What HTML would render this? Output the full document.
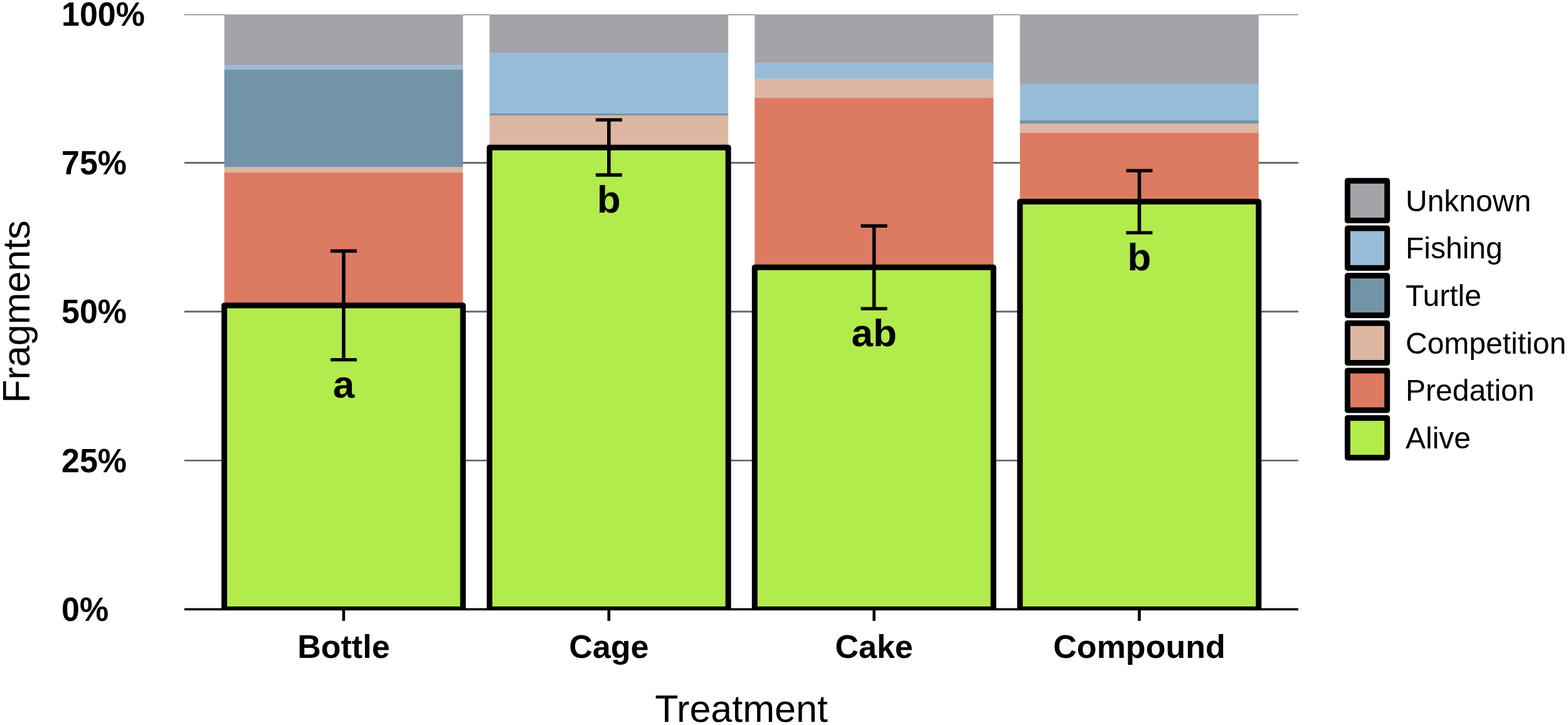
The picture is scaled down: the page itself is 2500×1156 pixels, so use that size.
<!DOCTYPE html>
<html><head><meta charset="utf-8"><title>Fragments by Treatment</title>
<style>html,body{margin:0;padding:0;background:#fff;}body{width:2500px;height:1156px;overflow:hidden;}svg{display:block;}text{font-family:"Liberation Sans",Arial,Helvetica,sans-serif;fill:#000;}.b{font-weight:bold;}</style></head><body>
<svg width="2500" height="1156" viewBox="0 0 2500 1156">
<rect x="0" y="0" width="2500" height="1156" fill="#fff"/>
<defs><clipPath id="panel"><rect x="294" y="22.3" width="1776" height="949.2"/></clipPath></defs>
<g clip-path="url(#panel)" stroke="#616161" stroke-width="2.6">
<line x1="294" y1="734.2" x2="2070" y2="734.2"/>
<line x1="294" y1="496.9" x2="2070" y2="496.9"/>
<line x1="294" y1="259.6" x2="2070" y2="259.6"/>
</g>
<rect x="294" y="23" width="1776" height="1.1" fill="#686868"/>
<g>
<rect x="357.6" y="23" width="380.6" height="80.9" fill="#a4a3a9"/>
<rect x="357.6" y="103.9" width="380.6" height="7" fill="#98bcd7"/>
<rect x="357.6" y="110.9" width="380.6" height="155.8" fill="#7393a9"/>
<rect x="357.6" y="266.7" width="380.6" height="8.4" fill="#dcb6a1"/>
<rect x="357.6" y="275.1" width="380.6" height="696.4" fill="#dd7a62"/>
<rect x="780.5" y="23" width="380.6" height="61" fill="#a4a3a9"/>
<rect x="780.5" y="84" width="380.6" height="97" fill="#98bcd7"/>
<rect x="780.5" y="181" width="380.6" height="3" fill="#7393a9"/>
<rect x="780.5" y="184" width="380.6" height="787.5" fill="#dcb6a1"/>
<rect x="1203.3" y="23" width="380.6" height="77.8" fill="#a4a3a9"/>
<rect x="1203.3" y="100.8" width="380.6" height="25" fill="#98bcd7"/>
<rect x="1203.3" y="125.8" width="380.6" height="30.3" fill="#dcb6a1"/>
<rect x="1203.3" y="156.1" width="380.6" height="815.4" fill="#dd7a62"/>
<rect x="1626.2" y="23" width="380.6" height="111" fill="#a4a3a9"/>
<rect x="1626.2" y="134" width="380.6" height="57.9" fill="#98bcd7"/>
<rect x="1626.2" y="191.9" width="380.6" height="5.1" fill="#7393a9"/>
<rect x="1626.2" y="197" width="380.6" height="15" fill="#dcb6a1"/>
<rect x="1626.2" y="212" width="380.6" height="759.5" fill="#dd7a62"/>
</g>
<g clip-path="url(#panel)">
<rect x="357.6" y="487" width="380.6" height="484.5" fill="#b2eb4c" stroke="#000" stroke-width="9" stroke-linejoin="round"/>
<rect x="780.5" y="235.15" width="380.6" height="736.35" fill="#b2eb4c" stroke="#000" stroke-width="9" stroke-linejoin="round"/>
<rect x="1203.3" y="426.2" width="380.6" height="545.3" fill="#b2eb4c" stroke="#000" stroke-width="9" stroke-linejoin="round"/>
<rect x="1626.2" y="321.6" width="380.6" height="649.9" fill="#b2eb4c" stroke="#000" stroke-width="9" stroke-linejoin="round"/>
</g>
<g stroke="#000" fill="none">
<line x1="547.9" y1="400.3" x2="547.9" y2="573.6" stroke-width="5.6"/>
<line x1="526.9" y1="400.3" x2="568.9" y2="400.3" stroke-width="5.4"/>
<line x1="526.9" y1="573.6" x2="568.9" y2="573.6" stroke-width="5.4"/>
<line x1="970.8" y1="191.1" x2="970.8" y2="279" stroke-width="5.6"/>
<line x1="949.8" y1="191.1" x2="991.8" y2="191.1" stroke-width="5.4"/>
<line x1="949.8" y1="279" x2="991.8" y2="279" stroke-width="5.4"/>
<line x1="1393.6" y1="360.2" x2="1393.6" y2="492.1" stroke-width="5.6"/>
<line x1="1372.6" y1="360.2" x2="1414.6" y2="360.2" stroke-width="5.4"/>
<line x1="1372.6" y1="492.1" x2="1414.6" y2="492.1" stroke-width="5.4"/>
<line x1="1816.5" y1="272.1" x2="1816.5" y2="371.1" stroke-width="5.6"/>
<line x1="1795.5" y1="272.1" x2="1837.5" y2="272.1" stroke-width="5.4"/>
<line x1="1795.5" y1="371.1" x2="1837.5" y2="371.1" stroke-width="5.4"/>
</g>
<text class="b" x="547.9" y="633.9" font-size="62" text-anchor="middle">a</text>
<text class="b" x="970.8" y="339.3" font-size="62" text-anchor="middle">b</text>
<text class="b" x="1393.6" y="552.4" font-size="62" text-anchor="middle">ab</text>
<text class="b" x="1816.5" y="431.4" font-size="62" text-anchor="middle">b</text>
<rect x="294" y="969.7" width="1776" height="3.6" fill="#000"/>
<rect x="545.6" y="971" width="4.6" height="19" fill="#000"/>
<rect x="968.5" y="971" width="4.6" height="19" fill="#000"/>
<rect x="1391.3" y="971" width="4.6" height="19" fill="#000"/>
<rect x="1814.2" y="971" width="4.6" height="19" fill="#000"/>
<text class="b" font-size="52" transform="translate(98 40.7) scale(1 1.04)">100%</text>
<text class="b" font-size="52" transform="translate(98 278) scale(1 1.04)">75%</text>
<text class="b" font-size="52" transform="translate(98 515.3) scale(1 1.04)">50%</text>
<text class="b" font-size="52" transform="translate(98 752.6) scale(1 1.04)">25%</text>
<text class="b" font-size="52" transform="translate(98 989.9) scale(1 1.04)">0%</text>
<text class="b" x="547.9" y="1049" font-size="52" text-anchor="middle">Bottle</text>
<text class="b" x="970.8" y="1049" font-size="52" text-anchor="middle">Cage</text>
<text class="b" x="1393.6" y="1049" font-size="52" text-anchor="middle">Cake</text>
<text class="b" x="1816.5" y="1049" font-size="52" text-anchor="middle">Compound</text>
<text x="1182" y="1151" font-size="61" text-anchor="middle">Treatment</text>
<text x="0" y="0" font-size="61" text-anchor="middle" transform="translate(47 496.9) rotate(-90)">Fragments</text>
<rect x="2148.5" y="288.3" width="63.2" height="63.2" fill="#a4a3a9" stroke="#000" stroke-width="9" stroke-linejoin="round"/>
<text x="2241" y="336.7" font-size="48">Unknown</text>
<rect x="2148.5" y="363.95" width="63.2" height="63.2" fill="#98bcd7" stroke="#000" stroke-width="9" stroke-linejoin="round"/>
<text x="2241" y="412.35" font-size="48">Fishing</text>
<rect x="2148.5" y="439.6" width="63.2" height="63.2" fill="#7393a9" stroke="#000" stroke-width="9" stroke-linejoin="round"/>
<text x="2241" y="488" font-size="48">Turtle</text>
<rect x="2148.5" y="515.25" width="63.2" height="63.2" fill="#dcb6a1" stroke="#000" stroke-width="9" stroke-linejoin="round"/>
<text x="2241" y="563.65" font-size="48">Competition</text>
<rect x="2148.5" y="590.9" width="63.2" height="63.2" fill="#dd7a62" stroke="#000" stroke-width="9" stroke-linejoin="round"/>
<text x="2241" y="639.3" font-size="48">Predation</text>
<rect x="2148.5" y="666.55" width="63.2" height="63.2" fill="#b2eb4c" stroke="#000" stroke-width="9" stroke-linejoin="round"/>
<text x="2241" y="714.95" font-size="48">Alive</text>
</svg></body></html>
